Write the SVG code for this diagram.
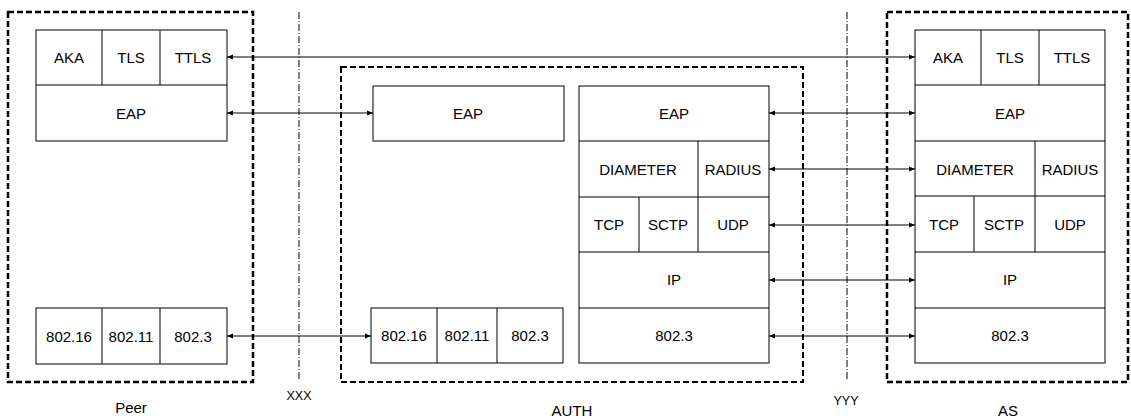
<svg xmlns="http://www.w3.org/2000/svg" width="1131" height="419" viewBox="0 0 1131 419">
<style>
text{font-family:"Liberation Sans",Arial,sans-serif;font-size:15px;fill:#000;text-anchor:middle}
.c{fill:#fff;stroke:#000;stroke-width:1}
.dv{stroke:#000;stroke-width:1}
.grp{fill:none;stroke:#000;stroke-dasharray:6,3}
.sep{stroke:#000;stroke-width:1;stroke-dasharray:7,2,1,2}
.ar{stroke:#000;stroke-width:1;fill:none;marker-start:url(#ah);marker-end:url(#ah)}
.lbl{font-size:15px}
.sm{font-size:12.5px}
</style>
<defs>
<marker id="ah" viewBox="0 0 10 10" refX="10" refY="5" markerWidth="6" markerHeight="6" orient="auto-start-reverse" markerUnits="userSpaceOnUse">
<path d="M0,1 L10,5 L0,9 z" fill="#000"/>
</marker>
</defs>
<g id="separators">
<line class="sep" x1="299" y1="12" x2="299" y2="379"/>
<line class="sep" x1="847" y1="12" x2="847" y2="380"/>
<text class="sm" x="299" y="400">XXX</text>
<text class="sm" x="846" y="405">YYY</text>
</g>
<g id="peer">
<rect class="grp" x="8" y="12" width="245" height="370" stroke-width="2.5"/>
<rect class="c" x="36" y="30" width="191" height="111"/>
<line class="dv" x1="36" y1="85" x2="227" y2="85"/>
<line class="dv" x1="102" y1="30" x2="102" y2="85"/>
<line class="dv" x1="160" y1="30" x2="160" y2="85"/>
<text x="69" y="63">AKA</text><text x="131" y="63">TLS</text><text x="193" y="63">TTLS</text>
<text x="131" y="119">EAP</text>
<rect class="c" x="36" y="308" width="191" height="56"/>
<line class="dv" x1="102" y1="308" x2="102" y2="364"/>
<line class="dv" x1="160" y1="308" x2="160" y2="364"/>
<text x="69" y="341.5">802.16</text><text x="131" y="341.5">802.11</text><text x="193" y="341.5">802.3</text>
<text class="lbl" x="131" y="413">Peer</text>
</g>
<g id="auth">
<rect class="grp" x="341" y="67" width="462" height="315" stroke-width="2"/>
<rect class="c" x="373" y="86" width="191" height="55"/>
<text x="468" y="119">EAP</text>
<rect class="c" x="371" y="308" width="192" height="55"/>
<line class="dv" x1="437" y1="308" x2="437" y2="363"/>
<line class="dv" x1="497" y1="308" x2="497" y2="363"/>
<text x="404" y="341">802.16</text><text x="467" y="341">802.11</text><text x="530" y="341">802.3</text>
<rect class="c" x="579" y="86" width="190" height="277"/>
<line class="dv" x1="579" y1="141" x2="769" y2="141"/>
<line class="dv" x1="579" y1="197" x2="769" y2="197"/>
<line class="dv" x1="579" y1="252" x2="769" y2="252"/>
<line class="dv" x1="579" y1="308" x2="769" y2="308"/>
<line class="dv" x1="698" y1="141" x2="698" y2="252"/>
<line class="dv" x1="639" y1="197" x2="639" y2="252"/>
<text x="674" y="119">EAP</text>
<text x="638" y="175">DIAMETER</text><text x="733" y="175">RADIUS</text>
<text x="609" y="230">TCP</text><text x="668" y="230">SCTP</text><text x="733" y="230">UDP</text>
<text x="674" y="285">IP</text>
<text x="674" y="341">802.3</text>
<text class="lbl" x="572" y="416">AUTH</text>
</g>
<g id="as">
<rect class="grp" x="887" y="12" width="241" height="370" stroke-width="2.5"/>
<rect class="c" x="915" y="30" width="190" height="333"/>
<line class="dv" x1="915" y1="85" x2="1105" y2="85"/>
<line class="dv" x1="915" y1="141" x2="1105" y2="141"/>
<line class="dv" x1="915" y1="196" x2="1105" y2="196"/>
<line class="dv" x1="915" y1="252" x2="1105" y2="252"/>
<line class="dv" x1="915" y1="308" x2="1105" y2="308"/>
<line class="dv" x1="981" y1="30" x2="981" y2="85"/>
<line class="dv" x1="1039" y1="30" x2="1039" y2="85"/>
<line class="dv" x1="1035" y1="141" x2="1035" y2="252"/>
<line class="dv" x1="974" y1="196" x2="974" y2="252"/>
<text x="948" y="63">AKA</text><text x="1010" y="63">TLS</text><text x="1072" y="63">TTLS</text>
<text x="1010" y="119">EAP</text>
<text x="975" y="175">DIAMETER</text><text x="1070" y="175">RADIUS</text>
<text x="944" y="230">TCP</text><text x="1004" y="230">SCTP</text><text x="1070" y="230">UDP</text>
<text x="1010" y="285">IP</text>
<text x="1010" y="341">802.3</text>
<text class="lbl" x="1008" y="416">AS</text>
</g>
<g id="connectors">
<line class="ar" x1="227" y1="57" x2="915" y2="57"/>
<line class="ar" x1="227" y1="113" x2="373" y2="113"/>
<line class="ar" x1="227" y1="336" x2="371" y2="336"/>
<line class="ar" x1="769" y1="113" x2="915" y2="113"/>
<line class="ar" x1="769" y1="169" x2="915" y2="169"/>
<line class="ar" x1="769" y1="225" x2="915" y2="225"/>
<line class="ar" x1="769" y1="280" x2="915" y2="280"/>
<line class="ar" x1="769" y1="336" x2="915" y2="336"/>
</g>
</svg>
